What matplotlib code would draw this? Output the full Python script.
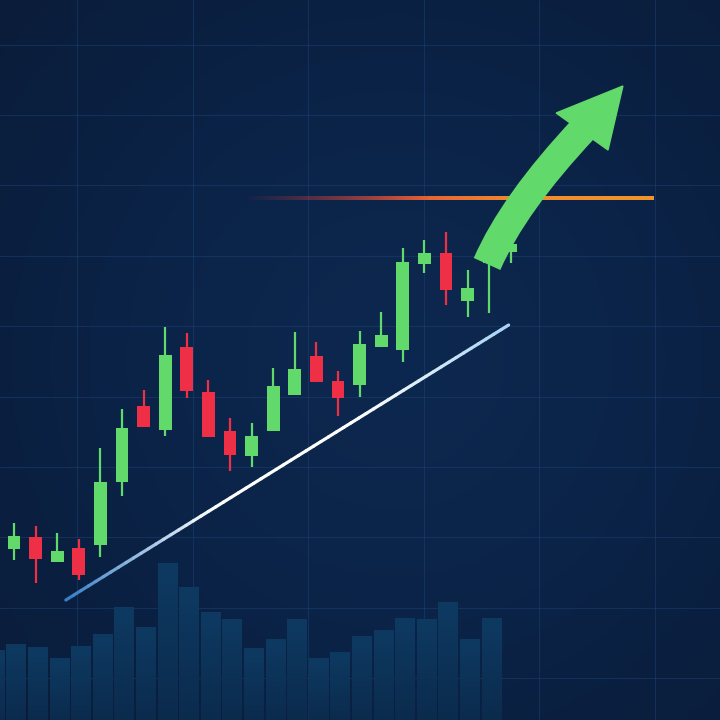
import numpy as np
import matplotlib.pyplot as plt
from matplotlib.collections import LineCollection
from matplotlib.patches import Polygon, Rectangle, PathPatch
from matplotlib.path import Path
from matplotlib.colors import LinearSegmentedColormap

# candle data (price units), one entry per session
opens = [171, 183, 158, 172, 175, 238, 314, 290, 373, 328, 289, 264,
         289, 325, 364, 339, 335, 373, 370, 456, 467, 419, 457, 468]
highs = [197, 194, 187, 181, 272, 311, 330, 393, 387, 340, 302, 297,
         352, 388, 378, 349, 389, 408, 472, 480, 488, 450, 470, 476]
lows = [160, 137, 158, 140, 163, 224, 293, 284, 322, 283, 249, 253,
        289, 325, 338, 304, 323, 373, 358, 447, 415, 403, 407, 457]
closes = [184, 161, 169, 145, 238, 292, 293, 365, 329, 283, 265, 284,
          334, 351, 338, 322, 376, 385, 458, 467, 430, 432, 470, 476]

# volume bars (start one session before the first candle)
volumes = [70, 76, 73, 62, 74, 86, 113, 93, 157, 133, 108, 101,
           72, 81, 101, 62, 68, 84, 90, 102, 101, 118, 81, 102]

# support trend line and resistance level
trend_x = [2.4, 22.9]
trend_y = [120, 395]
resistance = 522
resistance_x = [10.5, 29.6]

# breakout arrow (session index, price)
arrow_start = (21.9, 456)
arrow_ctrl = (23.1, 516)
arrow_end = (26.4, 592)
arrow_head = [(25.1, 607), (28.19, 634), (27.5, 570)]

GREEN = '#62d96b'
RED = '#ef2f45'

fig = plt.figure(figsize=(7.2, 7.2), dpi=100)
ax = fig.add_axes([0, 0, 1, 1])
x0, x1 = -14 / 21.6, (720 - 14) / 21.6
ax.set_xlim(x0, x1)
ax.set_ylim(0, 720)

# background gradient
yy, xx = np.mgrid[0:1:200j, 0:1:200j]
r = np.sqrt((xx - 0.55) ** 2 + (yy - 0.5) ** 2)
bg_cmap = LinearSegmentedColormap.from_list('bg', ['#0d2850', '#0b2347', '#0a1c39'])
ax.imshow(r, cmap=bg_cmap, extent=[x0, x1, 0, 720], aspect='auto',
          origin='lower', zorder=0, vmin=0, vmax=0.75)

# grid
grid_x = [(px - 14) / 21.6 for px in np.arange(77, 720, 115.5)]
grid_y = [720 - py for py in np.arange(44.6, 720, 70.4)]
for gx in grid_x:
    ax.axvline(gx, color='#1c4778', lw=0.8, alpha=0.45, zorder=1)
for gy in grid_y:
    ax.axhline(gy, color='#1c4778', lw=0.8, alpha=0.45, zorder=1)

# volume bars with vertical gradient
vol_cmap = LinearSegmentedColormap.from_list('vol', ['#0b2b4d', '#0e3a62'])
grad = np.linspace(0, 1, 100).reshape(-1, 1)
for k, v in enumerate(volumes):
    xc = k - 1 + 0.1
    rect = Rectangle((xc - 0.45, 0), 0.9, v, facecolor='none', edgecolor='none')
    ax.add_patch(rect)
    im = ax.imshow(grad, cmap=vol_cmap, extent=[xc - 0.45, xc + 0.45, 0, v],
                   aspect='auto', origin='lower', zorder=2)
    im.set_clip_path(rect)

# candles
for i in range(len(opens)):
    o, h, l, c = opens[i], highs[i], lows[i], closes[i]
    col = GREEN if c >= o else RED
    ax.plot([i, i], [l, h], color=col, lw=1.6, zorder=4, solid_capstyle='butt')
    ax.add_patch(Rectangle((i - 0.3, min(o, c)), 0.6, abs(c - o),
                           facecolor=col, edgecolor='none', zorder=5))

# trend line with colour gradient
n = 60
tx = np.linspace(trend_x[0], trend_x[1], n)
ty = np.linspace(trend_y[0], trend_y[1], n)
segs = [[(tx[j], ty[j]), (tx[j + 1], ty[j + 1])] for j in range(n - 1)]
trend_cmap = LinearSegmentedColormap.from_list('tr', ['#3a7fc4', '#ffffff', '#ffffff', '#a9d5f2'])
lc = LineCollection(segs, colors=trend_cmap(np.linspace(0, 1, n - 1)), lw=2.3,
                    zorder=3, capstyle='round')
ax.add_collection(lc)

# resistance line fading in from the left (drawn as a thin gradient strip)
res_cmap = LinearSegmentedColormap.from_list('res', ['#c8303a', '#e2503a', '#f08a2c', '#f0952c'])
strip = res_cmap(np.linspace(0, 1, 300)).reshape(1, 300, 4)
strip[0, :, 3] = np.clip(np.linspace(0, 2.2, 300), 0, 1)
ax.imshow(strip, extent=[resistance_x[0], resistance_x[1], resistance - 1.6, resistance + 1.6],
          aspect='auto', origin='lower', zorder=3, interpolation='bilinear')

# breakout arrow
shaft = Path([arrow_start, arrow_ctrl, arrow_end], [Path.MOVETO, Path.CURVE3, Path.CURVE3])
ax.add_patch(PathPatch(shaft, facecolor='none', edgecolor=GREEN, lw=21,
                       capstyle='butt', zorder=6))
ax.add_patch(Polygon(arrow_head, closed=True, facecolor=GREEN, edgecolor=GREEN,
                     lw=1, zorder=6))

ax.set_xlim(x0, x1)
ax.set_ylim(0, 720)
ax.axis('off')
fig.savefig('out.png', dpi=100)
